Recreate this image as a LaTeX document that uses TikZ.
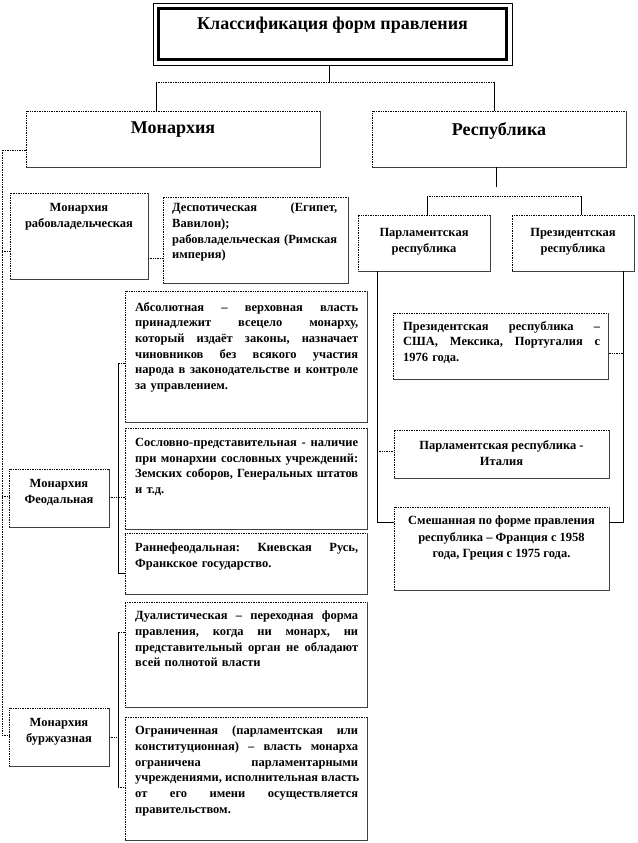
\documentclass[tikz,border=0pt]{standalone}
\usepackage{fontspec}
\setmainfont{Liberation Serif}
\usetikzlibrary{calc}
\newcommand{\J}[2][223pt]{\leavevmode\hbox to #1{\frenchspacing\spaceskip=0.25em plus 1fil\relax #2}}
\begin{document}
\begin{tikzpicture}[x=1pt,y=-1pt,
  bx/.style={draw=black, densely dotted, line width=0.7pt, inner sep=0pt, outer sep=0pt, anchor=north west},
  bigt/.style={font=\bfseries\fontsize{18}{22}\selectfont, inner sep=0pt, anchor=north},
  smt/.style={font=\bfseries\fontsize{12.5}{15.7}\selectfont, inner sep=0pt, anchor=north west, align=left},
  smc/.style={font=\bfseries\fontsize{12.5}{16.5}\selectfont, inner sep=0pt, anchor=north, align=center},
  dl/.style={densely dotted, line width=0.7pt},
  sl/.style={line width=0.7pt},
  edge/.style={line width=0.7pt, black!75}]
\useasboundingbox (0,0) rectangle (637,843);
% boxes
\node[draw=black, line width=0.8pt, inner sep=0pt, outer sep=0pt, anchor=north west, minimum width=359pt, minimum height=62pt] (title) at (153,3) {};
\draw[line width=3pt] ($(title.north west)+(5.5,5.5)$) rectangle ($(title.south east)+(-5.5,-5.5)$);
\node[bx, minimum width=294pt, minimum height=56pt] (mon) at (26,111) {};
\node[bx, minimum width=254pt, minimum height=56pt] (rep) at (372,111) {};
\node[bx, minimum width=138pt, minimum height=86pt] (rab) at (10,193) {};
\node[bx, minimum width=185pt, minimum height=86pt] (desp) at (163,197) {};
\node[bx, minimum width=132pt, minimum height=56pt] (parl) at (358,215) {};
\node[bx, minimum width=122pt, minimum height=56pt] (pres) at (512,215) {};
\node[bx, minimum width=215pt, minimum height=66pt] (presx) at (393,313) {};
\node[bx, minimum width=215pt, minimum height=48pt] (ital) at (394,430) {};
\node[bx, minimum width=215pt, minimum height=83pt] (mixed) at (394,507) {};
\node[bx, minimum width=242pt, minimum height=131pt] (abs) at (125,291) {};
\node[bx, minimum width=242pt, minimum height=101pt] (sosl) at (125,428) {};
\node[bx, minimum width=242pt, minimum height=61pt] (rann) at (125,533) {};
\node[bx, minimum width=100pt, minimum height=58pt] (feod) at (9,469) {};
\node[bx, minimum width=242pt, minimum height=105pt] (dual) at (125,602) {};
\node[bx, minimum width=242pt, minimum height=123pt] (ogr) at (125,717) {};
\node[bx, minimum width=100pt, minimum height=58pt] (burzh) at (9,708) {};
\foreach \n in {mon,rep,rab,desp,parl,pres,presx,ital,mixed,abs,sosl,rann,feod,dual,ogr,burzh}
  \draw[edge] (\n.north east) -- (\n.south east) -- (\n.south west);
% texts
\node[bigt] (titleT) at (332.5,17) {Классификация форм правления};
\node[bigt] (monT) at (173,122) {Монархия};
\node[bigt] (repT) at (499,122) {Республика};
\node[smc] (rabT) at (79,203) {Монархия\\рабовладельческая};
\node[smt, text width=165pt] (despT) at (172,203) {\J[165pt]{Деспотическая (Египет,}\\Вавилон);\\\J[165pt]{рабовладельческая (Римская}\\империя)};
\node[smc] (parlT) at (424,228) {Парламентская\\республика};
\node[smc] (presT) at (573,228) {Президентская\\республика};
\node[smt, text width=197pt] (presxT) at (403,321) {\J[197pt]{Президентская республика –}\\\J[197pt]{США, Мексика, Португалия с}\\1976 года.};
\node[smc] (italT) at (501.5,440) {Парламентская республика -\\Италия};
\node[smc] (mixedT) at (501.5,516) {Смешанная по форме правления\\республика – Франция с 1958\\года, Греция с 1975 года.};
\node[smt, text width=223pt] (absT) at (135,302) {\J{Абсолютная – верховная власть}\\\J{принадлежит всецело монарху,}\\\J{который издаёт законы, назначает}\\\J{чиновников без всякого участия}\\\J{народа в законодательстве и контроле}\\за управлением.};
\node[smt, text width=223pt] (soslT) at (135,438) {\J{Сословно-представительная - наличие}\\\J{при монархии сословных учреждений:}\\\J{Земских соборов, Генеральных штатов}\\и т.д.};
\node[smt, text width=223pt] (rannT) at (135,543) {\J{Раннефеодальная: Киевская Русь,}\\Франкское государство.};
\node[smc] (feodT) at (59,479) {Монархия\\Феодальная};
\node[smt, text width=223pt] (dualT) at (135,611) {\J{Дуалистическая – переходная форма}\\\J{правления, когда ни монарх, ни}\\\J{представительный орган не обладают}\\всей полнотой власти};
\node[smt, text width=223pt] (ogrT) at (135,726) {\J{Ограниченная (парламентская или}\\\J{конституционная) – власть монарха}\\\J{ограничена парламентарными}\\\J{учреждениями, исполнительная власть}\\\J{от его имени осуществляется}\\правительством.};
\node[smc] (burzhT) at (59,718) {Монархия\\буржуазная};
% connectors
\coordinate (j1) at (329,82);
\coordinate (hL) at (156,82);
\coordinate (hR) at (494,82);
\draw[sl] (title.south -| j1) -- (j1);
\draw[dl] (hL) -- (hR);
\draw[sl] (hL) -- (hL |- mon.north);
\draw[sl] (hR) -- (hR |- rep.north);
\coordinate (lt) at (2,150);
\coordinate (lb) at (2,735);
\coordinate (l1) at (2,251);
\coordinate (l2) at (2,496);
\draw[dl] (lt -| mon.west) -- (lt) -- (lb);
\draw[dl] (l1) -- (l1 -| rab.west);
\draw[dl] (l2) -- (l2 -| feod.west);
\draw[dl] (lb) -- (lb -| burzh.west);
\coordinate (rd) at (150,258);
\draw[dl] (rd -| rab.east) -- (rd -| desp.west);
\coordinate (r1) at (496,187);
\draw[sl] (rep.south -| r1) -- (r1);
\coordinate (pL) at (427,196);
\coordinate (pR) at (581,196);
\draw[dl] (pL) -- (pR);
\draw[sl] (pL) -- (pL |- parl.north);
\draw[sl] (pR) -- (pR |- pres.north);
\coordinate (pb) at (377,522);
\coordinate (pi) at (377,451);
\draw[sl] (parl.south -| pb) -- (pb) -- (pb -| mixed.west);
\draw[dl] (pi) -- (pi -| ital.west);
\coordinate (qb) at (623,522);
\coordinate (qi) at (623,353);
\draw[sl] (pres.south -| qb) -- (qb) -- (qb -| mixed.east);
\draw[dl] (qi) -- (qi -| presx.east);
\coordinate (ft) at (118,363);
\coordinate (fb) at (118,573);
\coordinate (fm) at (118,497);
\draw[dl] (ft -| abs.west) -- (ft);
\draw[sl] (ft) -- (fb) -- (fb -| rann.west);
\draw[dl] (fm -| feod.east) -- (fm -| sosl.west);
\coordinate (bt) at (118,632);
\coordinate (bb) at (118,787);
\coordinate (bm) at (118,737);
\draw[dl] (bt -| dual.west) -- (bt);
\draw[sl] (bt) -- (bb);
\draw[dl] (bb) -- (bb -| ogr.west);
\draw[dl] (bm -| burzh.east) -- (bm);
\end{tikzpicture}
\end{document}
